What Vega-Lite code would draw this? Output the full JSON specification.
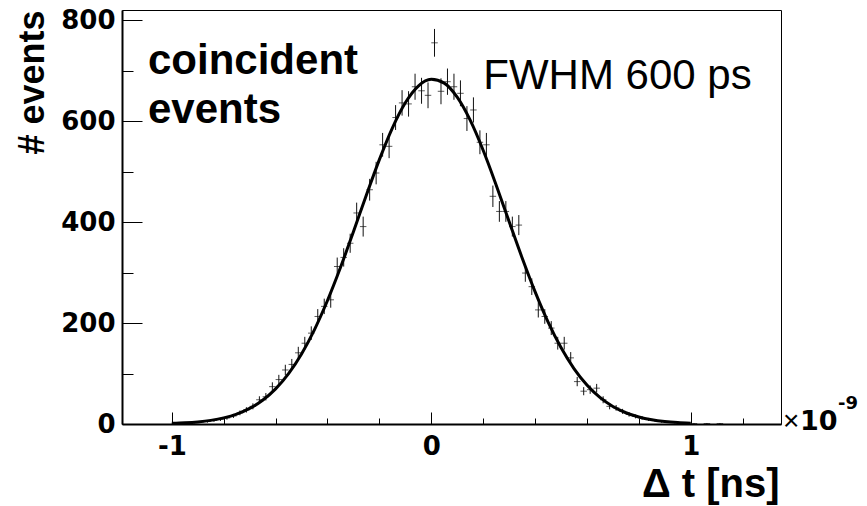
{
  "$schema": "https://vega.github.io/schema/vega-lite/v6.json",
  "width": 659,
  "height": 414,
  "autosize": {"type": "none"},
  "padding": {"left": 122, "top": 10, "right": 86, "bottom": 82},
  "background": "#ffffff",
  "config": {
    "view": {"stroke": "#000000", "strokeWidth": 1},
    "axis": {"grid": false, "labelFont": "DejaVu Sans", "labelFontWeight": "bold", "labelFontSize": 26, "labelColor": "#000000", "tickColor": "#000000", "domainColor": "#000000", "titleColor": "#000000", "labelFlush": false, "labelOverlap": false}
  },
  "datasets": {
    "hist": [
      {"c": -0.9875, "n": 1, "e": 1}, {"c": -0.9625, "n": 1, "e": 1}, {"c": -0.9375, "n": 2, "e": 1.41},
      {"c": -0.9125, "n": 3, "e": 1.73}, {"c": -0.8875, "n": 4, "e": 2}, {"c": -0.8625, "n": 5, "e": 2.24},
      {"c": -0.8375, "n": 7, "e": 2.65}, {"c": -0.8125, "n": 9, "e": 3}, {"c": -0.7875, "n": 12, "e": 3.46},
      {"c": -0.7625, "n": 16, "e": 4}, {"c": -0.7375, "n": 22, "e": 4.69}, {"c": -0.7125, "n": 28, "e": 5.29},
      {"c": -0.6875, "n": 35, "e": 5.92}, {"c": -0.6625, "n": 48, "e": 6.93}, {"c": -0.6375, "n": 54, "e": 7.35},
      {"c": -0.6125, "n": 74, "e": 8.6}, {"c": -0.5875, "n": 88, "e": 9.38}, {"c": -0.5625, "n": 107, "e": 10.34},
      {"c": -0.5375, "n": 118, "e": 10.86}, {"c": -0.5125, "n": 141, "e": 11.87}, {"c": -0.4875, "n": 160, "e": 12.65},
      {"c": -0.4625, "n": 180, "e": 13.42}, {"c": -0.4375, "n": 213, "e": 14.59}, {"c": -0.4125, "n": 233, "e": 15.26},
      {"c": -0.3875, "n": 246, "e": 15.68}, {"c": -0.3625, "n": 312, "e": 17.66}, {"c": -0.3375, "n": 330, "e": 18.17},
      {"c": -0.3125, "n": 358, "e": 18.92}, {"c": -0.2875, "n": 418, "e": 20.45}, {"c": -0.2625, "n": 391, "e": 19.77},
      {"c": -0.2375, "n": 464, "e": 21.54}, {"c": -0.2125, "n": 497, "e": 22.29}, {"c": -0.1875, "n": 553, "e": 23.52},
      {"c": -0.1625, "n": 550, "e": 23.45}, {"c": -0.1375, "n": 607, "e": 24.64}, {"c": -0.1125, "n": 636, "e": 25.22},
      {"c": -0.0875, "n": 634, "e": 25.18}, {"c": -0.0625, "n": 668, "e": 25.85}, {"c": -0.0375, "n": 660, "e": 25.69},
      {"c": -0.0125, "n": 651, "e": 25.51}, {"c": 0.0125, "n": 755, "e": 27.48}, {"c": 0.0375, "n": 659, "e": 25.67},
      {"c": 0.0625, "n": 678, "e": 26.04}, {"c": 0.0875, "n": 668, "e": 25.85}, {"c": 0.1125, "n": 655, "e": 25.59},
      {"c": 0.1375, "n": 605, "e": 24.6}, {"c": 0.1625, "n": 622, "e": 24.94}, {"c": 0.1875, "n": 558, "e": 23.62},
      {"c": 0.2125, "n": 553, "e": 23.52}, {"c": 0.2375, "n": 451, "e": 21.24}, {"c": 0.2625, "n": 421, "e": 20.52},
      {"c": 0.2875, "n": 421, "e": 20.52}, {"c": 0.3125, "n": 391, "e": 19.77}, {"c": 0.3375, "n": 394, "e": 19.85},
      {"c": 0.3625, "n": 299, "e": 17.29}, {"c": 0.3875, "n": 272, "e": 16.49}, {"c": 0.4125, "n": 226, "e": 15.03},
      {"c": 0.4375, "n": 213, "e": 14.59}, {"c": 0.4625, "n": 190, "e": 13.78}, {"c": 0.4875, "n": 160, "e": 12.65},
      {"c": 0.5125, "n": 160, "e": 12.65}, {"c": 0.5375, "n": 131, "e": 11.45}, {"c": 0.5625, "n": 84, "e": 9.17},
      {"c": 0.5875, "n": 65, "e": 8.06}, {"c": 0.6125, "n": 68, "e": 8.25}, {"c": 0.6375, "n": 71, "e": 8.43},
      {"c": 0.6625, "n": 48, "e": 6.93}, {"c": 0.6875, "n": 35, "e": 5.92}, {"c": 0.7125, "n": 32, "e": 5.66},
      {"c": 0.7375, "n": 25, "e": 5}, {"c": 0.7625, "n": 19, "e": 4.36}, {"c": 0.7875, "n": 15, "e": 3.87},
      {"c": 0.8125, "n": 12, "e": 3.46}, {"c": 0.8375, "n": 9, "e": 3}, {"c": 0.8625, "n": 7, "e": 2.65},
      {"c": 0.8875, "n": 5, "e": 2.24}, {"c": 0.9125, "n": 4, "e": 2}, {"c": 0.9375, "n": 3, "e": 1.73},
      {"c": 0.9625, "n": 2, "e": 1.41}, {"c": 0.9875, "n": 2, "e": 1.41}, {"c": 1.0125, "n": 1, "e": 1},
      {"c": 1.0625, "n": 1, "e": 1}, {"c": 1.1125, "n": 1, "e": 1}
    ],
    "fit": [
      {"x": -1.0, "f": 1.27}, {"x": -0.95, "f": 2.34}, {"x": -0.9, "f": 4.16}, {"x": -0.85, "f": 7.2},
      {"x": -0.8, "f": 12.05}, {"x": -0.75, "f": 19.57}, {"x": -0.7, "f": 30.81}, {"x": -0.65, "f": 47.03},
      {"x": -0.6, "f": 69.58}, {"x": -0.55, "f": 99.81}, {"x": -0.5, "f": 138.8}, {"x": -0.45, "f": 187.1},
      {"x": -0.4, "f": 244.6}, {"x": -0.35, "f": 309.9}, {"x": -0.3, "f": 380.8}, {"x": -0.25, "f": 453.5},
      {"x": -0.2, "f": 523.7}, {"x": -0.15, "f": 586.2}, {"x": -0.1, "f": 636.2}, {"x": -0.05, "f": 669.4},
      {"x": 0.0, "f": 682.8}, {"x": 0.05, "f": 675.2}, {"x": 0.1, "f": 647.3}, {"x": 0.15, "f": 601.7},
      {"x": 0.2, "f": 542.2}, {"x": 0.25, "f": 473.6}, {"x": 0.3, "f": 401.1}, {"x": 0.35, "f": 329.4},
      {"x": 0.4, "f": 262.2}, {"x": 0.45, "f": 202.3}, {"x": 0.5, "f": 151.4}, {"x": 0.55, "f": 109.8},
      {"x": 0.6, "f": 77.2}, {"x": 0.65, "f": 52.6}, {"x": 0.7, "f": 34.8}, {"x": 0.75, "f": 22.3},
      {"x": 0.8, "f": 13.85}, {"x": 0.85, "f": 8.34}, {"x": 0.9, "f": 4.87}, {"x": 0.95, "f": 2.76},
      {"x": 1.0, "f": 1.51}
    ]
  },
  "layer": [
    {
      "data": {"name": "hist"},
      "mark": {"type": "errorbar", "ticks": false, "color": "#111111", "thickness": 1},
      "encoding": {
        "x": {"field": "c", "type": "quantitative", "scale": {"domain": [-1.192, 1.348], "nice": false, "zero": false},
          "axis": {"orient": "bottom", "values": [-1, -0.8, -0.6, -0.4, -0.2, 0, 0.2, 0.4, 0.6, 0.8, 1, 1.2],
            "tickSize": {"condition": {"test": "abs(datum.value - round(datum.value)) < 0.001", "value": -12}, "value": -6},
            "labelPadding": 21,
            "labelExpr": "abs(datum.value - round(datum.value)) < 0.001 ? '' + round(datum.value) : ''",
            "domainWidth": 2,
            "title": "Δ t [ns]", "titleFont": "Liberation Sans", "titleFontWeight": "bold", "titleFontSize": 40, "titleAnchor": "end", "titleAlign": "right", "titleX": 657, "titleY": 72, "titleBaseline": "alphabetic"}},
        "y": {"field": "n", "type": "quantitative", "scale": {"domain": [0, 820], "nice": false},
          "axis": {"orient": "left", "values": [0, 50, 100, 150, 200, 250, 300, 350, 400, 450, 500, 550, 600, 650, 700, 750, 800],
            "tickSize": {"condition": {"test": "datum.value % 200 === 0", "value": -20}, "value": -11},
            "labelPadding": 27,
            "labelExpr": "datum.value % 200 === 0 ? '' + datum.value : ''",
            "domainWidth": 2,
            "title": "# events", "titleFont": "Liberation Sans", "titleFontWeight": "bold", "titleFontSize": 36, "titleAngle": -90, "titleAnchor": "end", "titleAlign": "right", "titleX": -79, "titleY": 0, "titleBaseline": "alphabetic"}},
        "yError": {"field": "e"}
      }
    },
    {
      "data": {"name": "hist"},
      "mark": {"type": "tick", "orient": "horizontal", "size": 6.5, "thickness": 1, "color": "#111111"},
      "encoding": {
        "x": {"field": "c", "type": "quantitative"},
        "y": {"field": "n", "type": "quantitative"}
      }
    },
    {
      "data": {"name": "fit"},
      "mark": {"type": "line", "interpolate": "monotone", "color": "#000000", "strokeWidth": 3},
      "encoding": {
        "x": {"field": "x", "type": "quantitative"},
        "y": {"field": "f", "type": "quantitative"}
      }
    },
    {
      "data": {"values": [{}]},
      "mark": {"type": "text", "text": ["coincident", "events"], "font": "Liberation Sans", "fontWeight": "bold", "fontSize": 42, "align": "left", "baseline": "alphabetic", "lineHeight": 49, "color": "#000000"},
      "encoding": {
        "x": {"datum": -1.0918, "type": "quantitative"},
        "y": {"datum": 693.2, "type": "quantitative"}
      }
    },
    {
      "data": {"values": [{}]},
      "mark": {"type": "text", "text": "FWHM 600 ps", "font": "Liberation Sans", "fontWeight": "normal", "fontSize": 42, "align": "left", "baseline": "alphabetic", "color": "#000000"},
      "encoding": {
        "x": {"datum": 0.2006, "type": "quantitative"},
        "y": {"datum": 662.9, "type": "quantitative"}
      }
    },
    {
      "data": {"values": [{}]},
      "mark": {"type": "text", "text": "×", "font": "Liberation Sans", "fontWeight": "normal", "fontSize": 28, "align": "left", "baseline": "alphabetic", "color": "#000000"},
      "encoding": {
        "x": {"datum": 1.3557, "type": "quantitative"},
        "y": {"datum": -11, "type": "quantitative"}
      }
    },
    {
      "data": {"values": [{}]},
      "mark": {"type": "text", "text": "10", "font": "DejaVu Sans", "fontWeight": "bold", "fontSize": 27, "align": "left", "baseline": "alphabetic", "color": "#000000"},
      "encoding": {
        "x": {"datum": 1.4212, "type": "quantitative"},
        "y": {"datum": -11, "type": "quantitative"}
      }
    },
    {
      "data": {"values": [{}]},
      "mark": {"type": "text", "text": "-9", "font": "DejaVu Sans", "fontWeight": "bold", "fontSize": 18, "align": "left", "baseline": "alphabetic", "color": "#000000"},
      "encoding": {
        "x": {"datum": 1.5677, "type": "quantitative"},
        "y": {"datum": 30, "type": "quantitative"}
      }
    }
  ]
}
